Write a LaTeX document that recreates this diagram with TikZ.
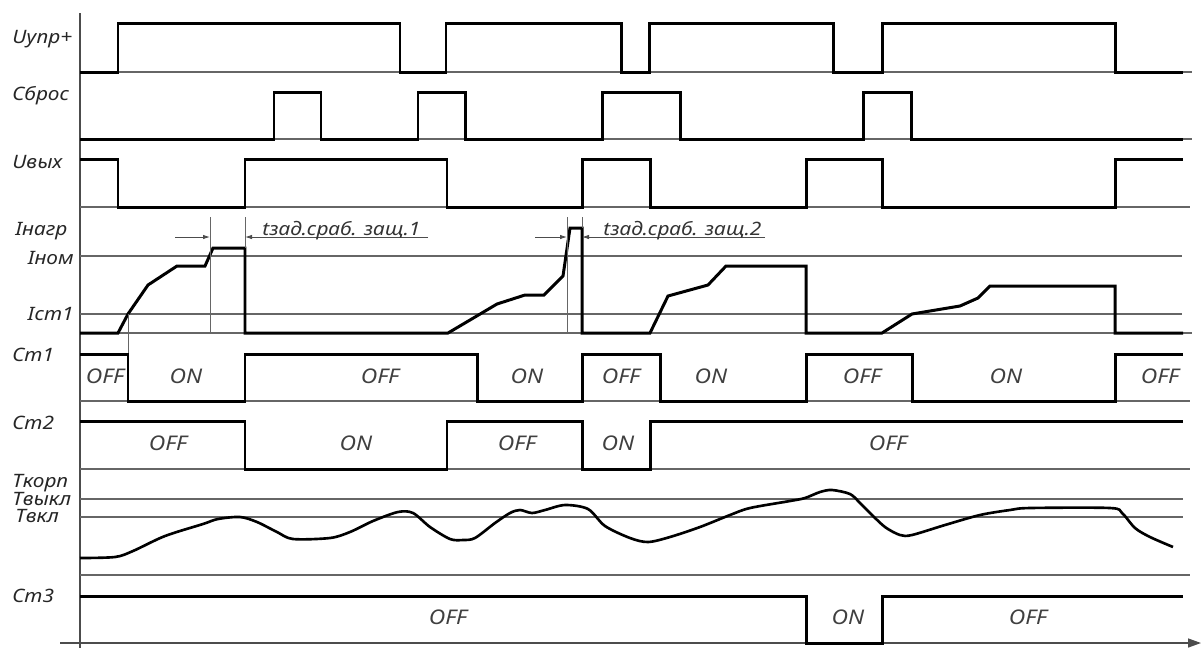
\documentclass[tikz,border=0pt]{standalone}
\usepackage{fontspec}
\setmainfont{Noto Sans}[FakeStretch=1.13]
\usetikzlibrary{arrows.meta}

\begin{document}
\begin{tikzpicture}[
  x=0.02cm, y=-0.02cm,
  sig/.style={line width=1.7pt, line join=miter},
  temp/.style={line width=1.5pt, line join=round},
  grid/.style={line width=0.6pt, black!60},
  axis/.style={line width=0.8pt, black!70},
  rowlabel/.style={anchor=base west, inner sep=0pt, font=\fontsize{10.5}{12}\selectfont\itshape, text=black!85},
  state/.style={inner sep=0pt, font=\fontsize{11.5}{13}\selectfont\itshape, text=black!75},
  dim/.style={line width=0.5pt, black!70, -{Latex[length=1.4mm,width=0.9mm]}},
  dimlabel/.style={anchor=base west, inner sep=0pt, font=\fontsize{10.5}{12}\selectfont\itshape, text=black!80},
]
\useasboundingbox (0,0) rectangle (1203,657);

% Axes
\draw[axis] (80,13) -- (80,648);
\draw[axis, -{Triangle[length=2.6mm,width=1.8mm]}] (60,643) -- (1201,643);

% Thin reference lines
\foreach \yy/\xe in {72/1192, 139/1192, 207/1190, 256/1182, 314/1182, 333/1192,
                     401/1190, 469/1190, 499/1183, 517/1183, 575/1190}
  \draw[grid] (80,\yy) -- (\xe,\yy);

% Row labels
\node[rowlabel] (lupr)  at (12,43)  {Uупр+};
\node[rowlabel] (lsbr)  at (12,100) {Сброс};
\node[rowlabel] (lvyh)  at (12,168) {Uвых};
\node[rowlabel] (lnagr) at (15,235) {Iнагр};
\node[rowlabel, anchor=base east] (lnom) at (74,264) {Iном};
\node[rowlabel, anchor=base east] (lst)  at (74,320) {Iст1};
\node[rowlabel] (lst1)  at (12,361) {Ст1};
\node[rowlabel] (lst2)  at (12,429) {Ст2};
\node[rowlabel] (lkorp) at (12,487) {Tкорп};
\node[rowlabel] (lvykl) at (12,505) {Tвыкл};
\node[rowlabel] (lvkl)  at (15,522) {Tвкл};
\node[rowlabel] (lst3)  at (12,602) {Ст3};

% Uupr+
\draw[sig] (80,72) -| (118,23) -| (400,72) -| (446,23) -| (621,72) -| (649,23)
  -| (833,72) -| (882,23) -| (1115,72) -- (1183,72);

% Sbros
\draw[sig] (80,139) -| (274,92) -| (321,139) -| (418,92) -| (465,139) -| (602,92)
  -| (680,139) -| (863,92) -| (911,139) -- (1183,139);

% Uvyh
\draw[sig] (80,159) -| (118,207) -| (245,159) -| (447,207) -| (582,159) -| (650,207)
  -| (806,159) -| (882,207) -| (1115,159) -- (1183,159);

% Inagr
\draw[sig] (80,333) -- (118,333) -- (128,314) -- (148,285) -- (177,266) -- (205,266)
  -- (213,248) -- (245,248) -- (245,333) -- (448,333) -- (470,320) -- (497,304)
  -- (525,295) -- (544,295) -- (563,276) -- (570,228) -- (582,228) -- (582,333)
  -- (650,333) -- (668,296) -- (708,285) -- (726,266) -- (806,266) -- (806,333)
  -- (882,333) -- (912,314) -- (960,306) -- (978,298) -- (990,286) -- (1115,286)
  -- (1115,333) -- (1183,333);

% Delay markers
\draw[grid, line width=0.5pt] (210,217) -- (210,333);
\draw[grid, line width=0.5pt] (245,217) -- (245,248);
\draw[grid, line width=0.5pt] (567,217) -- (567,333);
\draw[grid, line width=0.5pt] (582,217) -- (582,228);
\draw[grid, line width=0.5pt] (128,314) -- (128,354);

\coordinate (d1l) at (175,237);
\coordinate (d1a) at (210,237);
\coordinate (d1b) at (245,237);
\coordinate (d1r) at (428,237);
\draw[dim] (d1l) -- (d1a);
\draw[dim] (d1r) -- (d1b);
\node[dimlabel] (t1) at (262,235) {tзад.сраб. защ.1};

\coordinate (d2l) at (535,237);
\coordinate (d2a) at (567,237);
\coordinate (d2b) at (582,237);
\coordinate (d2r) at (765,237);
\draw[dim] (d2l) -- (d2a);
\draw[dim] (d2r) -- (d2b);
\node[dimlabel] (t2) at (603,235) {tзад.сраб. защ.2};

% St1
\draw[sig] (80,354) -| (128,401) -| (245,354) -| (477,401) -| (582,354) -| (660,401)
  -| (806,354) -| (912,401) -| (1115,354) -- (1183,354);
\foreach \xx/\txt [count=\i] in {105/OFF, 186/ON, 380/OFF, 527/ON, 621/OFF,
                                 711/ON, 862/OFF, 1006/ON, 1160/OFF}
  \node[state] (s1-\i) at (\xx,376) {\txt};

% St2
\draw[sig] (80,421) -| (245,469) -| (447,421) -| (582,469) -| (650,421) -- (1183,421);
\foreach \xx/\txt [count=\i] in {168/OFF, 356/ON, 517/OFF, 618/ON, 888/OFF}
  \node[state] (s2-\i) at (\xx,443) {\txt};

% Tkorp
\draw[temp] plot[smooth, tension=0.5] coordinates {
  (80,558) (115,557) (133,551) (165,536) (203,524) (218,519) (240,517) (257,522)
  (277,532) (293,539) (330,538) (350,532) (373,521) (398,512) (413,513) (430,527)
  (450,539) (463,540) (475,538) (495,523) (510,513) (520,510) (532,513) (545,510)
  (565,505) (588,509) (605,526) (630,538) (648,542) (670,537) (700,527) (730,515)
  (750,508) (790,501) (805,498) (820,492) (832,490) (850,494) (860,503) (870,513)
  (885,527) (900,535) (912,535) (945,525) (980,515) (1010,510) (1030,508) (1110,508)
  (1122,513) (1135,528) (1150,537) (1173,547)};

% St3
\draw[sig] (80,596) -| (806,643) -| (882,596) -- (1183,596);
\foreach \xx/\txt [count=\i] in {448/OFF, 848/ON, 1028/OFF}
  \node[state] (s3-\i) at (\xx,617) {\txt};

\end{tikzpicture}
\end{document}
